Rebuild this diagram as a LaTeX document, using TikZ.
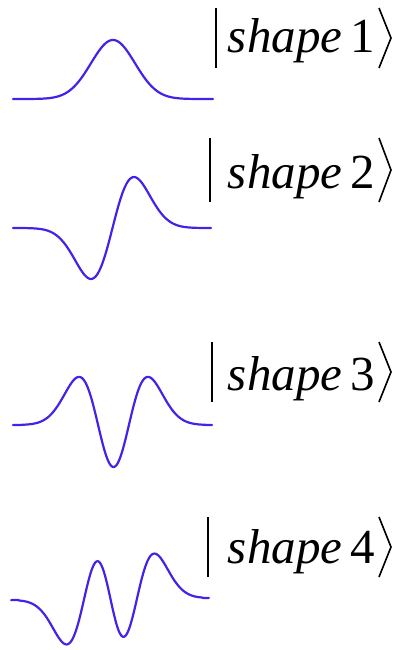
\documentclass[tikz,border=0pt]{standalone}
\usepackage{fontspec}
\setmainfont{Liberation Serif}
\definecolor{wave}{RGB}{66,36,232}
\begin{document}
\begin{tikzpicture}[x=1pt,y=-1pt,
  curve/.style={draw=wave,line width=2.2pt,line cap=round,smooth},
  kettext/.style={inner sep=0pt,anchor=base east,font=\fontsize{49}{54}\selectfont},
  barline/.style={line width=2.6pt},
  brk/.style={line width=1.6pt,line join=miter}]
\useasboundingbox (0,0) rectangle (398,650);
% curves
\draw[curve] plot[domain=-4.55:4.55,samples=160] ({113+22*\x},{99-59*exp(-\x*\x/2)});
\draw[curve] plot[domain=-4.63:4.58,samples=160] ({112.5+21.5*\x},{228-42*2*\x*exp(-\x*\x/2)});
\draw[curve] plot[domain=-4.61:4.52,samples=180] ({113.5+21.8*\x},{425-21*(4*\x*\x-2)*exp(-\x*\x/2)});
\draw[curve] plot[domain=-4.6:4.56,samples=200] ({110.5+21.6*\x},{599-0.22*\x-8.3*(8*\x*\x*\x-12*\x)*exp(-\x*\x/2)});
% labels
\foreach \n/\bx/\top/\bot/\base in {1/216/8/68/53, 2/210/138/202/188, 3/212/342/402/390, 4/208/517/577/563}{
  \node[kettext] (t\n) at (375,\base) {\textit{shape}\kern8pt\n};
  \coordinate (bt\n) at (\bx,\top);
  \coordinate (bb\n) at (\bx,\bot);
  \coordinate (kt\n) at (379,\top);
  \coordinate (km\n) at (391,{(\top+\bot)/2});
  \coordinate (kb\n) at (379,\bot);
  \draw[barline] (bt\n) -- (bb\n);
  \draw[brk] (kt\n) -- (km\n) -- (kb\n);
}
\end{tikzpicture}
\end{document}
